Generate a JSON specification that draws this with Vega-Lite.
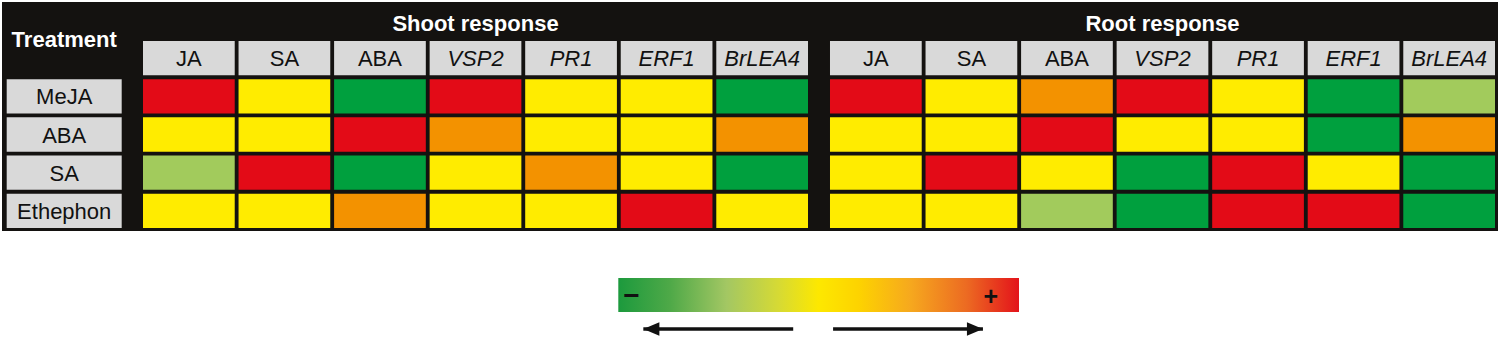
{
  "$schema": "https://vega.github.io/schema/vega-lite/v6.json",
  "background": "#ffffff",
  "padding": {"left": 2, "top": 2, "right": 2, "bottom": 0},
  "spacing": 0,
  "config": {"view": {"stroke": null}, "font": "Liberation Sans"},
  "datasets": {
    "cells": [
      {"panel": "Shoot response", "treatment": "MeJA", "gene": "JA", "level": 2},
      {"panel": "Shoot response", "treatment": "MeJA", "gene": "SA", "level": 0},
      {"panel": "Shoot response", "treatment": "MeJA", "gene": "ABA", "level": -2},
      {"panel": "Shoot response", "treatment": "MeJA", "gene": "VSP2", "level": 2},
      {"panel": "Shoot response", "treatment": "MeJA", "gene": "PR1", "level": 0},
      {"panel": "Shoot response", "treatment": "MeJA", "gene": "ERF1", "level": 0},
      {"panel": "Shoot response", "treatment": "MeJA", "gene": "BrLEA4", "level": -2},
      {"panel": "Shoot response", "treatment": "ABA", "gene": "JA", "level": 0},
      {"panel": "Shoot response", "treatment": "ABA", "gene": "SA", "level": 0},
      {"panel": "Shoot response", "treatment": "ABA", "gene": "ABA", "level": 2},
      {"panel": "Shoot response", "treatment": "ABA", "gene": "VSP2", "level": 1},
      {"panel": "Shoot response", "treatment": "ABA", "gene": "PR1", "level": 0},
      {"panel": "Shoot response", "treatment": "ABA", "gene": "ERF1", "level": 0},
      {"panel": "Shoot response", "treatment": "ABA", "gene": "BrLEA4", "level": 1},
      {"panel": "Shoot response", "treatment": "SA", "gene": "JA", "level": -1},
      {"panel": "Shoot response", "treatment": "SA", "gene": "SA", "level": 2},
      {"panel": "Shoot response", "treatment": "SA", "gene": "ABA", "level": -2},
      {"panel": "Shoot response", "treatment": "SA", "gene": "VSP2", "level": 0},
      {"panel": "Shoot response", "treatment": "SA", "gene": "PR1", "level": 1},
      {"panel": "Shoot response", "treatment": "SA", "gene": "ERF1", "level": 0},
      {"panel": "Shoot response", "treatment": "SA", "gene": "BrLEA4", "level": -2},
      {"panel": "Shoot response", "treatment": "Ethephon", "gene": "JA", "level": 0},
      {"panel": "Shoot response", "treatment": "Ethephon", "gene": "SA", "level": 0},
      {"panel": "Shoot response", "treatment": "Ethephon", "gene": "ABA", "level": 1},
      {"panel": "Shoot response", "treatment": "Ethephon", "gene": "VSP2", "level": 0},
      {"panel": "Shoot response", "treatment": "Ethephon", "gene": "PR1", "level": 0},
      {"panel": "Shoot response", "treatment": "Ethephon", "gene": "ERF1", "level": 2},
      {"panel": "Shoot response", "treatment": "Ethephon", "gene": "BrLEA4", "level": 0},
      {"panel": "Root response", "treatment": "MeJA", "gene": "JA", "level": 2},
      {"panel": "Root response", "treatment": "MeJA", "gene": "SA", "level": 0},
      {"panel": "Root response", "treatment": "MeJA", "gene": "ABA", "level": 1},
      {"panel": "Root response", "treatment": "MeJA", "gene": "VSP2", "level": 2},
      {"panel": "Root response", "treatment": "MeJA", "gene": "PR1", "level": 0},
      {"panel": "Root response", "treatment": "MeJA", "gene": "ERF1", "level": -2},
      {"panel": "Root response", "treatment": "MeJA", "gene": "BrLEA4", "level": -1},
      {"panel": "Root response", "treatment": "ABA", "gene": "JA", "level": 0},
      {"panel": "Root response", "treatment": "ABA", "gene": "SA", "level": 0},
      {"panel": "Root response", "treatment": "ABA", "gene": "ABA", "level": 2},
      {"panel": "Root response", "treatment": "ABA", "gene": "VSP2", "level": 0},
      {"panel": "Root response", "treatment": "ABA", "gene": "PR1", "level": 0},
      {"panel": "Root response", "treatment": "ABA", "gene": "ERF1", "level": -2},
      {"panel": "Root response", "treatment": "ABA", "gene": "BrLEA4", "level": 1},
      {"panel": "Root response", "treatment": "SA", "gene": "JA", "level": 0},
      {"panel": "Root response", "treatment": "SA", "gene": "SA", "level": 2},
      {"panel": "Root response", "treatment": "SA", "gene": "ABA", "level": 0},
      {"panel": "Root response", "treatment": "SA", "gene": "VSP2", "level": -2},
      {"panel": "Root response", "treatment": "SA", "gene": "PR1", "level": 2},
      {"panel": "Root response", "treatment": "SA", "gene": "ERF1", "level": 0},
      {"panel": "Root response", "treatment": "SA", "gene": "BrLEA4", "level": -2},
      {"panel": "Root response", "treatment": "Ethephon", "gene": "JA", "level": 0},
      {"panel": "Root response", "treatment": "Ethephon", "gene": "SA", "level": 0},
      {"panel": "Root response", "treatment": "Ethephon", "gene": "ABA", "level": -1},
      {"panel": "Root response", "treatment": "Ethephon", "gene": "VSP2", "level": -2},
      {"panel": "Root response", "treatment": "Ethephon", "gene": "PR1", "level": 2},
      {"panel": "Root response", "treatment": "Ethephon", "gene": "ERF1", "level": 2},
      {"panel": "Root response", "treatment": "Ethephon", "gene": "BrLEA4", "level": -2}
    ],
    "columns": [
      {"panel": "Shoot response", "gene": "JA", "kind": "hormone"},
      {"panel": "Shoot response", "gene": "SA", "kind": "hormone"},
      {"panel": "Shoot response", "gene": "ABA", "kind": "hormone"},
      {"panel": "Shoot response", "gene": "VSP2", "kind": "gene"},
      {"panel": "Shoot response", "gene": "PR1", "kind": "gene"},
      {"panel": "Shoot response", "gene": "ERF1", "kind": "gene"},
      {"panel": "Shoot response", "gene": "BrLEA4", "kind": "gene"},
      {"panel": "Root response", "gene": "JA", "kind": "hormone"},
      {"panel": "Root response", "gene": "SA", "kind": "hormone"},
      {"panel": "Root response", "gene": "ABA", "kind": "hormone"},
      {"panel": "Root response", "gene": "VSP2", "kind": "gene"},
      {"panel": "Root response", "gene": "PR1", "kind": "gene"},
      {"panel": "Root response", "gene": "ERF1", "kind": "gene"},
      {"panel": "Root response", "gene": "BrLEA4", "kind": "gene"}
    ],
    "panels": [{"panel": "Shoot response"}, {"panel": "Root response"}],
    "treatments": [
      {"treatment": "MeJA"}, {"treatment": "ABA"}, {"treatment": "SA"}, {"treatment": "Ethephon"}
    ],
    "scaleEnds": [
      {"end": "low", "response": -1, "sign": "−"},
      {"end": "high", "response": 1, "sign": "+"}
    ],
    "arrows": [
      {"direction": "decrease", "start": -0.127, "tip": -0.875},
      {"direction": "increase", "start": 0.072, "tip": 0.82}
    ]
  },
  "vconcat": [
    {
      "width": 1496,
      "height": 229,
      "view": {"fill": "#141210", "stroke": null},
      "resolve": {"scale": {"x": "independent"}},
      "layer": [
        {
          "layer": [
            {
              "data": {"name": "cells"},
              "mark": {"type": "rect"},
              "encoding": {
                "x": {"field": "panel", "type": "nominal", "axis": null,
                      "scale": {"domain": ["Shoot response", "Root response"], "range": [141, 1493], "paddingInner": 0.032, "paddingOuter": 0}},
                "xOffset": {"field": "gene", "type": "nominal",
                      "scale": {"domain": ["JA", "SA", "ABA", "VSP2", "PR1", "ERF1", "BrLEA4"], "paddingInner": 0.04, "paddingOuter": 0}},
                "y": {"field": "treatment", "type": "nominal", "axis": null,
                      "scale": {"domain": ["Gene", "MeJA", "ABA", "SA", "Ethephon"], "range": [39, 226], "paddingInner": 0.1, "paddingOuter": 0}},
                "color": {"field": "level", "type": "ordinal", "legend": null,
                      "scale": {"domain": [-2, -1, 0, 1, 2], "range": ["#00a03e", "#a2cb5c", "#ffec00", "#f39200", "#e30b17"]}}
              }
            },
            {
              "data": {"name": "columns"},
              "mark": {"type": "rect", "fill": "#d9d9d9"},
              "encoding": {
                "x": {"field": "panel", "type": "nominal"},
                "xOffset": {"field": "gene", "type": "nominal"},
                "y": {"datum": "Gene"}
              }
            },
            {
              "data": {"name": "columns"},
              "transform": [{"filter": "datum.kind === 'hormone'"}],
              "mark": {"type": "text", "fontSize": 22, "baseline": "alphabetic", "dy": 8, "color": "#111111"},
              "encoding": {
                "x": {"field": "panel", "type": "nominal"},
                "xOffset": {"field": "gene", "type": "nominal"},
                "y": {"datum": "Gene"},
                "text": {"field": "gene"}
              }
            },
            {
              "data": {"name": "columns"},
              "transform": [{"filter": "datum.kind === 'gene'"}],
              "mark": {"type": "text", "fontSize": 22, "fontStyle": "italic", "baseline": "alphabetic", "dy": 8, "color": "#111111"},
              "encoding": {
                "x": {"field": "panel", "type": "nominal"},
                "xOffset": {"field": "gene", "type": "nominal"},
                "y": {"datum": "Gene"},
                "text": {"field": "gene"}
              }
            },
            {
              "data": {"name": "panels"},
              "mark": {"type": "text", "fontSize": 22, "fontWeight": "bold", "color": "#ffffff", "baseline": "alphabetic", "dy": -27},
              "encoding": {
                "x": {"field": "panel", "type": "nominal"},
                "y": {"datum": "Gene"},
                "text": {"field": "panel"}
              }
            }
          ]
        },
        {
          "layer": [
            {
              "data": {"name": "treatments"},
              "mark": {"type": "rect", "fill": "#d9d9d9"},
              "encoding": {
                "x": {"datum": "Treatment", "type": "nominal", "axis": null,
                      "scale": {"domain": ["Treatment"], "range": [4.7, 119.7], "paddingInner": 0, "paddingOuter": 0}},
                "y": {"field": "treatment", "type": "nominal"}
              }
            },
            {
              "data": {"name": "treatments"},
              "mark": {"type": "text", "fontSize": 22, "baseline": "alphabetic", "dy": 8, "color": "#111111"},
              "encoding": {
                "x": {"datum": "Treatment", "type": "nominal"},
                "y": {"field": "treatment", "type": "nominal"},
                "text": {"field": "treatment"}
              }
            },
            {
              "data": {"values": [{"header": "Treatment"}]},
              "mark": {"type": "text", "fontSize": 22, "fontWeight": "bold", "color": "#ffffff", "baseline": "alphabetic", "dy": -11},
              "encoding": {
                "x": {"datum": "Treatment", "type": "nominal"},
                "y": {"datum": "Gene"},
                "text": {"field": "header"}
              }
            }
          ]
        }
      ]
    },
    {
      "width": 1496,
      "height": 105,
      "layer": [
        {
          "data": {"name": "scaleEnds"},
          "transform": [{"aggregate": [{"op": "min", "field": "response", "as": "low"}, {"op": "max", "field": "response", "as": "high"}]}],
          "mark": {"type": "rect", "fill": {"gradient": "linear", "x1": 0, "y1": 0, "x2": 1, "y2": 0, "stops": [
            {"offset": 0, "color": "#1c9a3d"},
            {"offset": 0.13, "color": "#4fa948"},
            {"offset": 0.27, "color": "#a3c763"},
            {"offset": 0.4, "color": "#d6da34"},
            {"offset": 0.5, "color": "#fde800"},
            {"offset": 0.6, "color": "#fdd300"},
            {"offset": 0.73, "color": "#f6a81e"},
            {"offset": 0.87, "color": "#ec6a22"},
            {"offset": 1, "color": "#e3131b"}
          ]}},
          "encoding": {
            "x": {"field": "low", "type": "quantitative", "axis": null,
                  "scale": {"domain": [-1, 1], "range": [616.3, 1017], "nice": false, "zero": false}},
            "x2": {"field": "high"},
            "y": {"datum": "scale", "type": "nominal", "axis": null,
                  "scale": {"domain": ["scale", "direction"], "range": [47, 115], "paddingInner": 0, "paddingOuter": 0}}
          }
        },
        {
          "data": {"name": "scaleEnds"},
          "transform": [{"filter": "datum.end === 'low'"}],
          "mark": {"type": "text", "fontSize": 28, "fontWeight": "bold", "align": "left", "dx": 5, "baseline": "alphabetic", "dy": 10, "color": "#111111"},
          "encoding": {
            "x": {"field": "response", "type": "quantitative"},
            "y": {"datum": "scale"},
            "text": {"field": "sign"}
          }
        },
        {
          "data": {"name": "scaleEnds"},
          "transform": [{"filter": "datum.end === 'high'"}],
          "mark": {"type": "text", "fontSize": 25, "fontWeight": "bold", "align": "right", "dx": -21, "baseline": "alphabetic", "dy": 10, "color": "#111111"},
          "encoding": {
            "x": {"field": "response", "type": "quantitative"},
            "y": {"datum": "scale"},
            "text": {"field": "sign"}
          }
        },
        {
          "data": {"name": "arrows"},
          "mark": {"type": "rule", "strokeWidth": 3.5, "color": "#111111"},
          "encoding": {
            "x": {"field": "start", "type": "quantitative"},
            "x2": {"field": "tip"},
            "y": {"datum": "direction"}
          }
        },
        {
          "data": {"name": "arrows"},
          "mark": {"type": "point", "filled": true, "size": 256, "opacity": 1, "color": "#111111"},
          "encoding": {
            "x": {"field": "tip", "type": "quantitative"},
            "y": {"datum": "direction"},
            "shape": {"field": "direction", "type": "nominal", "legend": null,
                      "scale": {"domain": ["decrease", "increase"], "range": ["M0,0L2,-0.85L2,0.85Z", "M0,0L-2,-0.85L-2,0.85Z"]}}
          }
        }
      ]
    }
  ]
}
